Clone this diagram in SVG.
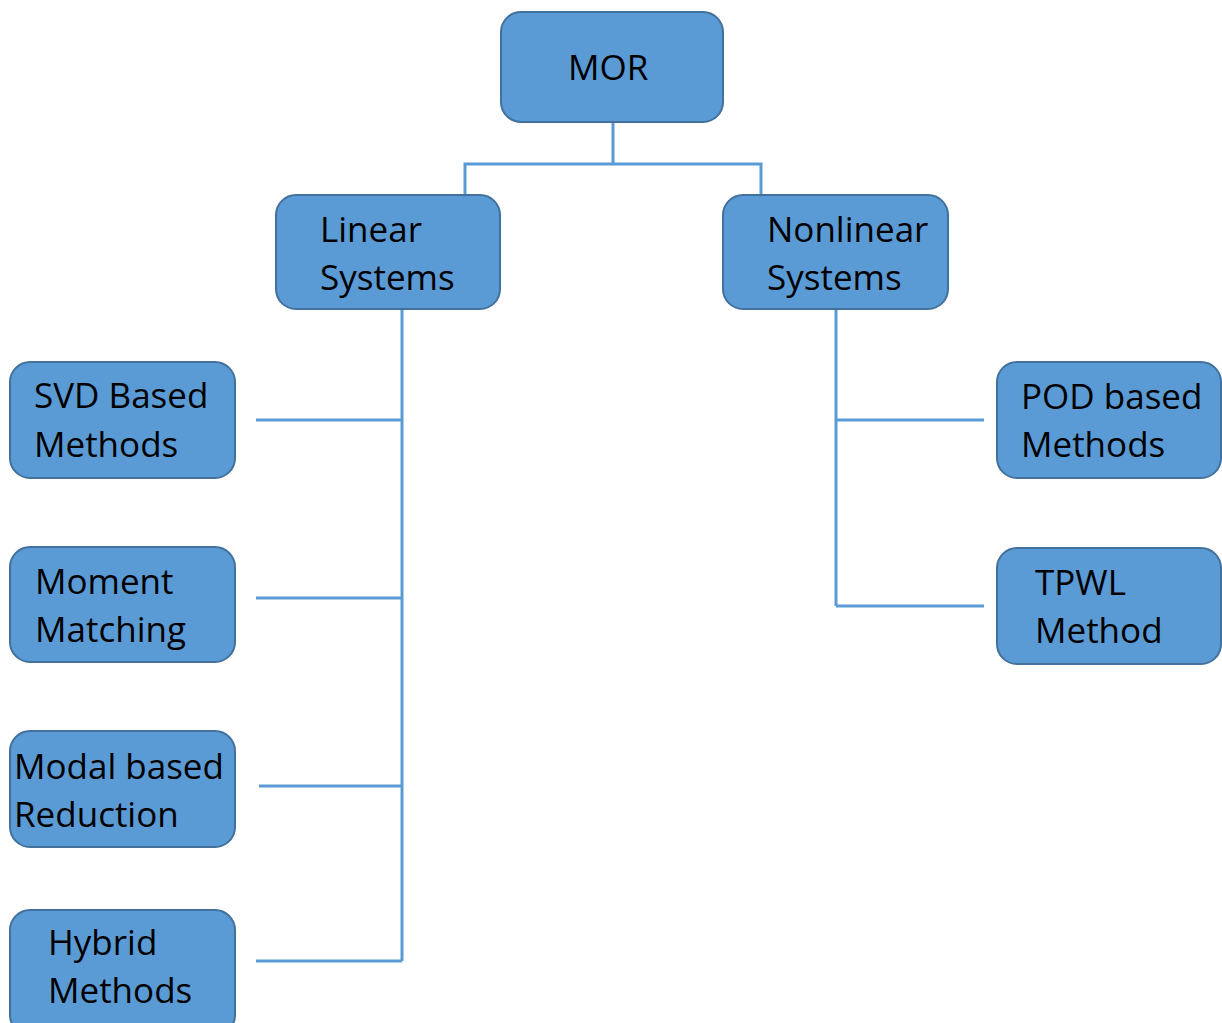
<svg xmlns="http://www.w3.org/2000/svg" width="1222" height="1023" viewBox="0 0 1222 1023">
  <style>
    .box { fill: #5B9BD5; stroke: #41719C; stroke-width: 2; }
    .lbl { font-family: "Open Sans", "Liberation Sans", sans-serif; font-size: 35px; fill: #000; }
    .wire { fill: none; stroke: #5B9BD5; stroke-width: 3; }
  </style>
  <rect width="1222" height="1023" fill="#fff"/>

  <!-- connectors -->
  <g id="connectors">
    <path class="wire" d="M613 122 V164 M465 195 V164 H761 V195"/>
    <path class="wire" d="M402 309 V961 M256 420 H402 M256 598 H402 M259 786 H402 M256 961 H402"/>
    <path class="wire" d="M836 309 V606 M836 420 H984 M836 606 H984"/>
  </g>

  <g id="mor">
    <rect class="box" x="501" y="12" width="222" height="110" rx="20"/>
    <text class="lbl" x="568" y="80">MOR</text>
  </g>
  <g id="linear">
    <rect class="box" x="276" y="195" width="224" height="114" rx="20"/>
    <text class="lbl" x="320" y="242">Linear</text>
    <text class="lbl" x="320" y="290">Systems</text>
  </g>
  <g id="nonlinear">
    <rect class="box" x="723" y="195" width="225" height="114" rx="20"/>
    <text class="lbl" x="767" y="242">Nonlinear</text>
    <text class="lbl" x="767" y="290">Systems</text>
  </g>
  <g id="svd">
    <rect class="box" x="10" y="362" width="225" height="116" rx="20"/>
    <text class="lbl" x="34" y="408">SVD Based</text>
    <text class="lbl" x="34" y="457">Methods</text>
  </g>
  <g id="moment">
    <rect class="box" x="10" y="547" width="225" height="115" rx="20"/>
    <text class="lbl" x="35" y="594">Moment</text>
    <text class="lbl" x="35" y="642">Matching</text>
  </g>
  <g id="modal">
    <rect class="box" x="10" y="731" width="225" height="116" rx="20"/>
    <text class="lbl" x="14" y="779">Modal based</text>
    <text class="lbl" x="14" y="827">Reduction</text>
  </g>
  <g id="hybrid">
    <rect class="box" x="10" y="910" width="225" height="125" rx="20"/>
    <text class="lbl" x="48" y="955">Hybrid</text>
    <text class="lbl" x="48" y="1003">Methods</text>
  </g>
  <g id="pod">
    <rect class="box" x="997" y="362" width="224" height="116" rx="20"/>
    <text class="lbl" x="1021" y="409">POD based</text>
    <text class="lbl" x="1021" y="457">Methods</text>
  </g>
  <g id="tpwl">
    <rect class="box" x="997" y="548" width="224" height="116" rx="20"/>
    <text class="lbl" x="1035" y="595">TPWL</text>
    <text class="lbl" x="1035" y="643">Method</text>
  </g>
</svg>
